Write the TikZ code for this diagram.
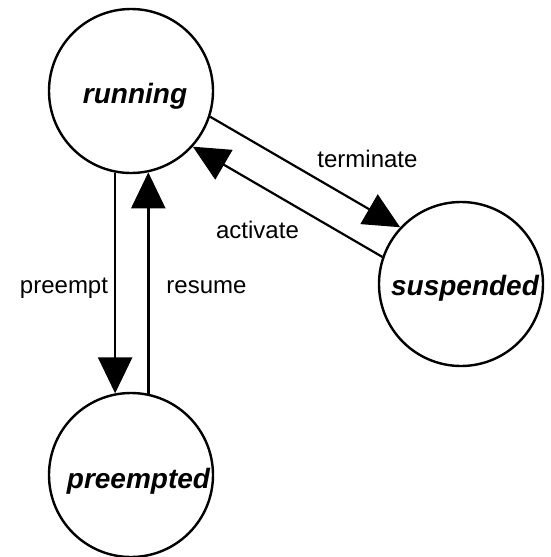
\documentclass[tikz,border=0pt]{standalone}
\usepackage{fontspec}
\setmainfont{Liberation Sans}
\usetikzlibrary{arrows.meta}
\tikzset{
  state/.style={draw=black, line width=2.4pt, circle, minimum size=164pt, inner sep=0pt, fill=white},
  statename/.style={anchor=base, font=\fontsize{28}{32}\selectfont\bfseries\itshape, inner sep=0pt},
  translabel/.style={anchor=base, font=\fontsize{24}{28}\selectfont, inner sep=0pt},
  trans/.style={line width=2.5pt, -{Triangle[length=36pt,width=34pt]}},
  transdiag/.style={line width=2.2pt, -{Triangle[length=36pt,width=34pt]}}
}
\begin{document}
\begin{tikzpicture}[x=1pt,y=-1pt]
  \useasboundingbox (0,0) rectangle (550,557);
  % states
  \node[state] (run) at (131,91) {};
  \node[state] (sus) at (461,284) {};
  \node[state] (pre) at (131,475) {};
  \node[statename] (runtxt) at (135,103) {running};
  \node[statename] (sustxt) at (465,295) {suspended};
  \node[statename] (pretxt) at (138.5,488) {preempted};
  % transitions between running and preempted
  \draw[trans] (run.259) -- (pre.101);
  \draw[trans] (pre.78) -- (run.282);
  % transitions between running and suspended
  \draw[transdiag] (run.-18.5) -- (sus.137.9);
  \draw[transdiag] (sus.161.5) -- (run.-42.1);
  % transition labels
  \node[translabel] (lterm) at (367.5,167) {terminate};
  \node[translabel] (lact) at (257.5,238) {activate};
  \node[translabel] (lpre) at (64,293) {preempt};
  \node[translabel] (lres) at (206.5,293) {resume};
\end{tikzpicture}
\end{document}
